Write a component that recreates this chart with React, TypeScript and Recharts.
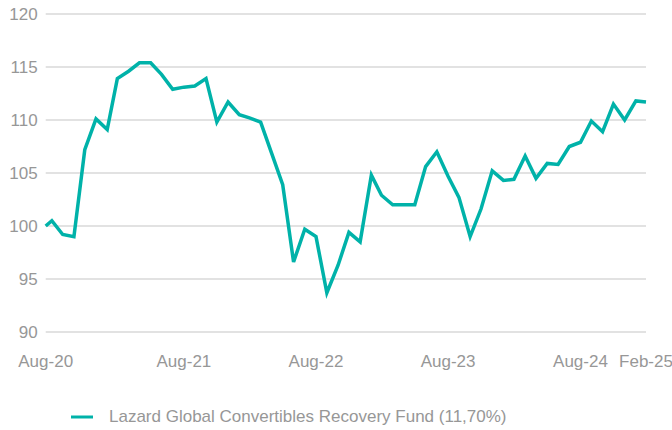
import React from "react";
import { LineChart, Line, XAxis, YAxis, CartesianGrid } from "recharts";

const dates = [
  "2020-08-14", "2020-08-31", "2020-09-30", "2020-10-31", "2020-11-30", "2020-12-31",
  "2021-01-31", "2021-02-28", "2021-03-31", "2021-04-30", "2021-05-31", "2021-06-30",
  "2021-07-31", "2021-08-31", "2021-09-30", "2021-10-31", "2021-11-30", "2021-12-31",
  "2022-01-31", "2022-02-28", "2022-03-31", "2022-04-30", "2022-05-31", "2022-06-30",
  "2022-07-31", "2022-08-31", "2022-09-30", "2022-10-31", "2022-11-30", "2022-12-31",
  "2023-01-31", "2023-02-28", "2023-03-31", "2023-04-30", "2023-05-31", "2023-06-30",
  "2023-07-31", "2023-08-31", "2023-09-30", "2023-10-31", "2023-11-30", "2023-12-31",
  "2024-01-31", "2024-02-29", "2024-03-31", "2024-04-30", "2024-05-31", "2024-06-30",
  "2024-07-31", "2024-08-31", "2024-09-30", "2024-10-31", "2024-11-30", "2024-12-31",
  "2025-01-31", "2025-02-28",
];

const fundValues = [
  100.0, 100.5, 99.2, 99.0, 107.2, 110.1,
  109.1, 113.9, 114.6, 115.4, 115.4, 114.3,
  112.9, 113.1, 113.2, 113.9, 109.8, 111.7,
  110.5, 110.2, 109.8, 106.9, 103.9, 96.6,
  99.7, 99.0, 93.7, 96.3, 99.4, 98.5,
  104.8, 102.9, 102.0, 102.0, 102.0, 105.6,
  107.0, 104.7, 102.7, 99.0, 101.6, 105.2,
  104.3, 104.4, 106.6, 104.5, 105.9, 105.8,
  107.5, 107.9, 109.9, 108.9, 111.5, 110.0,
  111.8, 111.7,
];

const tickDates = ["2020-08-14", "2021-08-31", "2022-08-31", "2023-08-31", "2024-08-31", "2025-02-28"];
const tickLabels = ["Aug-20", "Aug-21", "Aug-22", "Aug-23", "Aug-24", "Feb-25"];
const yTicks = [90, 95, 100, 105, 110, 115, 120];

const seriesName = "Lazard Global Convertibles Recovery Fund (11,70%)";

const data = dates.map((d, i) => ({ ts: Date.parse(d), value: fundValues[i] }));
const tickTs = tickDates.map((d) => Date.parse(d));
const labelFor = (v: number) => {
  const i = tickTs.indexOf(v);
  return i >= 0 ? tickLabels[i] : "";
};

const FONT = "'Liberation Sans', Arial, sans-serif";
const TEXT = "#979797";
const TEAL = "#00b2a9";

export default function App() {
  return (
    <div style={{ position: "absolute", left: 0, top: 0, width: 672, height: 430, background: "#fff" }}>
      <LineChart width={672} height={430} data={data} margin={{ top: 14, right: 26, left: 0, bottom: 68 }}>
        <CartesianGrid vertical={false} stroke="#d9d9d9" strokeWidth={1.5} />
        <XAxis
          dataKey="ts"
          type="number"
          scale="time"
          domain={["dataMin", "dataMax"]}
          ticks={tickTs}
          tickFormatter={labelFor}
          axisLine={false}
          tickLine={false}
          tickSize={21}
          height={30}
          interval={0}
          tick={{ fill: TEXT, fontSize: 17, fontFamily: FONT }}
        />
        <YAxis
          domain={[90, 120]}
          ticks={yTicks}
          width={45.7}
          axisLine={false}
          tickLine={false}
          tickSize={8}
          tickMargin={0}
          interval={0}
          tick={{ fill: TEXT, fontSize: 17, fontFamily: FONT }}
        />
        <Line
          type="linear"
          dataKey="value"
          name={seriesName}
          stroke={TEAL}
          strokeWidth={3.5}
          dot={false}
          isAnimationActive={false}
        />
      </LineChart>
      <div
        style={{
          position: "absolute",
          left: 71,
          top: 407,
          display: "flex",
          alignItems: "center",
          fontFamily: FONT,
          fontSize: 17,
          color: TEXT,
          whiteSpace: "nowrap",
        }}
      >
        <svg width={22} height={6} style={{ marginRight: 16 }}>
          <line x1={0} y1={3} x2={22} y2={3} stroke={TEAL} strokeWidth={3} />
        </svg>
        <span>{seriesName}</span>
      </div>
    </div>
  );
}
